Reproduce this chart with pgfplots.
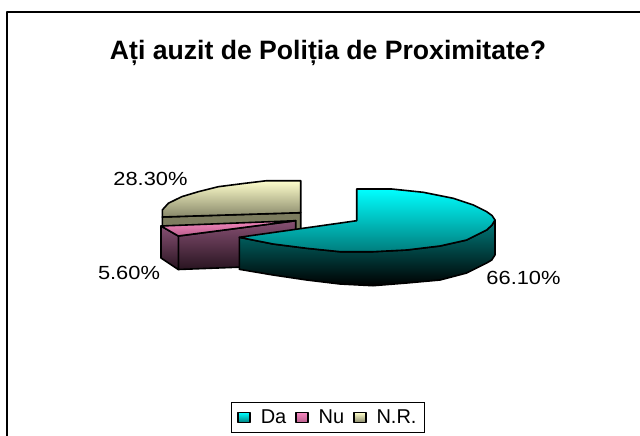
\documentclass[border=0pt]{standalone}
\usepackage{pgfplots}
\pgfplotsset{compat=1.18}
\usepackage{fontspec}
\setmainfont{Liberation Sans}
\definecolor{tanw}{RGB}{125,125,95}
\definecolor{tant}{RGB}{255,255,204}
\definecolor{tanb}{RGB}{135,135,105}
\definecolor{pinkw}{RGB}{135,80,115}
\definecolor{pinkd}{RGB}{40,20,32}
\definecolor{pinkt}{RGB}{245,135,190}
\definecolor{pinkb}{RGB}{185,95,140}
\definecolor{cyanw}{RGB}{0,125,125}
\definecolor{cyant}{RGB}{0,255,255}
\definecolor{cyanb}{RGB}{0,125,125}
\begin{document}
\begin{tikzpicture}[x=1pt,y=1pt]
\path[use as bounding box] (0,0) rectangle (640,436);
\begin{axis}[
  scale only axis, width=640pt, height=436pt,
  xmin=0, xmax=640, ymin=0, ymax=436, y dir=reverse,
  hide axis, no markers,
  every axis plot/.append style={sharp plot, line join=round},
  legend columns=3, reverse legend,
  legend image code/.code={\path[#1,line width=1.3pt] (0pt,-5pt) rectangle (12pt,5pt);},
  legend style={at={(axis cs:328,417.5)}, anchor=center, draw=black, line width=1pt,
    font=\fontsize{20}{22}\selectfont, inner xsep=6pt, inner ysep=5.5pt,
    /tikz/every even column/.append style={column sep=7pt},
    /tikz/every odd column/.append style={column sep=8pt}},
]
% outer frame, runs off the page on the right and at the bottom
\addplot[forget plot, black, line width=2pt] coordinates {(6.5,440) (6.5,12.5) (645,12.5)};

% N.R. 28.30%
\addplot[forget plot, draw=black, line width=1.6pt, fill=tanw]
  coordinates {(162.3,217) (300.7,212.7) (300.7,240) (162.3,240)} --cycle;
\addplot[draw=black, line width=1.6pt, shade, top color=tant, bottom color=tanb]
  coordinates {(300.7,180.7) (266.7,180.7) (245,183.3) (218.3,186.7) (198.3,191.7) (181.7,196.7)
    (168.3,203.3) (162.3,210) (162.3,217) (300.7,212.7)} --cycle;
\addlegendentry{N.R.}

% Nu 5.60%
\addplot[forget plot, draw=black, line width=1.6pt, shade, top color=pinkw, bottom color=pinkd]
  coordinates {(178.3,236) (295.7,220.7) (295.7,265) (178.3,269.5)} --cycle;
\addplot[forget plot, draw=black, line width=1.6pt, shade, top color=pinkw, bottom color=pinkd]
  coordinates {(161,226) (178.3,236) (178.3,269.5) (161,258)} --cycle;
\addplot[draw=black, line width=1.6pt, shade, top color=pinkt, bottom color=pinkb]
  coordinates {(161,226) (295.7,220.7) (178.3,236)} --cycle;
\addlegendentry{Nu}

% Da 66.10%
\addplot[forget plot, draw=black, line width=1.6pt, shade, top color=cyanw, bottom color=black]
  coordinates {(495,220) (495,255) (491.7,260) (486.7,263) (466.7,273) (440,280) (406.7,283) (373,285.7)
    (340,284) (306.7,280) (273,275) (239.3,269.3) (239.3,237.3) (273,244) (306.7,248.3)
    (340,251.7) (373.3,251.7) (406.7,250) (440,246) (466.7,240) (486.7,230) (492,225)} --cycle;
\addplot[draw=black, line width=1.6pt, shade, top color=cyant, bottom color=cyanb]
  coordinates {(356.7,220.7) (356.7,189) (391.7,189) (423.3,192.3) (453.3,198.3) (473.3,205)
    (486.7,211.7) (492,215.5) (495,220) (492,225) (486.7,230) (466.7,240) (440,246) (406.7,250) (373.3,251.7)
    (340,251.7) (306.7,248.3) (273,244) (239.3,237.3)} --cycle;
\addlegendentry{Da}

\node[font=\bfseries\fontsize{26.6}{28}\selectfont, anchor=center] at (axis cs:328,53) {Ați auzit de Poliția de Proximitate?};
\node[font=\fontsize{19}{21}\selectfont, anchor=center, xscale=1.15, transform shape] at (axis cs:150.5,179) {28.30\%};
\node[font=\fontsize{19}{21}\selectfont, anchor=center, xscale=1.15, transform shape] at (axis cs:129,273) {5.60\%};
\node[font=\fontsize{19}{21}\selectfont, anchor=center, xscale=1.15, transform shape] at (axis cs:523.5,278) {66.10\%};
\end{axis}
\end{tikzpicture}
\end{document}
